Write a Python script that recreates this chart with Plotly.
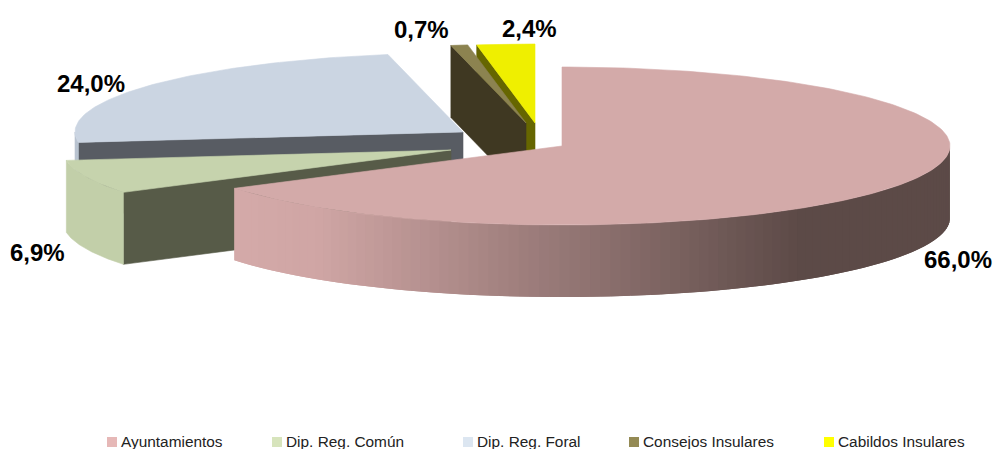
import math
import plotly.graph_objects as go

categories = ["Ayuntamientos", "Dip. Reg. Común", "Dip. Reg. Foral", "Consejos Insulares", "Cabildos Insulares"]
values = [66.0, 6.9, 24.0, 0.7, 2.4]
labels = ["66,0%", "6,9%", "24,0%", "0,7%", "2,4%"]

# styling / layout (canvas units)
apex = [(562, 146), (451, 150), (463, 132), (526, 123), (535, 123)]
top_colors = ["#d3aaa9", "#c6d3ad", "#cbd5e2", "#8c8350", "#efef00"]
face_colors = ["#5c4a47", "#575b48", "#585c63", "#3f3822", "#666600"]
arc_colors = [None, "#c2cfa9", "#b9c3d0", "#3f3822", "#666600"]
legend_colors = ["#e6b8b7", "#d7e4bc", "#dce6f1", "#948a54", "#ffff00"]
legend_x = [107, 272, 463, 629, 824]
label_pos = [(958, 259), (37, 252), (91, 83), (421, 29), (529, 28)]
draw_order = [4, 3, 2, 1, 0]
RX, RY, DEPTH = 388, 79, 72

fig = go.Figure()


def poly(xs, ys, color, lw=0.6):
    fig.add_trace(go.Scatter(x=xs, y=ys, mode="lines", fill="toself", fillcolor=color,
                             line=dict(color=color, width=lw), hoverinfo="skip", showlegend=False))


def pt(i, deg, dy=0):
    a = math.radians(deg)
    return apex[i][0] + RX * math.sin(a), apex[i][1] - RY * math.cos(a) + dy


def big_side(x):
    stops = [(234, (212, 170, 169)), (320, (207, 165, 164)), (800, (92, 74, 71)), (960, (92, 74, 71))]
    for (x0, c0), (x1, c1) in zip(stops, stops[1:]):
        if x <= x1:
            t = (x - x0) / (x1 - x0)
            return "rgb(%d,%d,%d)" % tuple(round(p + (q - p) * t) for p, q in zip(c0, c1))
    return "rgb(92,74,71)"


def rim(i, d0, d1, col, lw=0.0):
    steps = max(2, int((d1 - d0) / 0.5))
    ds = [d0 + (d1 - d0) * k / steps for k in range(steps + 1)]
    top = [pt(i, d) for d in ds]
    xs = [p[0] for p in top] + [p[0] for p in reversed(top)] + [top[0][0]]
    ys = [p[1] for p in top] + [p[1] + DEPTH for p in reversed(top)] + [top[0][1]]
    poly(xs, ys, col, lw)


starts = []
acc = 0.0
for v in values:
    starts.append(acc * 3.6)
    acc += v

for i in draw_order:
    s, e = starts[i], starts[i] + values[i] * 3.6
    # radial face at slice start
    if s > 0:
        ax, ay = apex[i]
        ox, oy = pt(i, s)
        poly([ax, ox, ox, ax, ax], [ay, oy, oy + DEPTH, ay + DEPTH, ay], face_colors[i])
    # outer rim, front half only
    lo, hi = max(s, 90), min(e, 270)
    if hi > lo:
        if i == 0:
            n = int((hi - lo) / 1.5)
            for k in range(n):
                d0 = lo + (hi - lo) * k / n
                d1 = lo + (hi - lo) * (k + 1) / n
                d2 = min(hi, d1 + (hi - lo) / n)
                rim(i, d0, d2, big_side(pt(i, (d0 + d1) / 2)[0]))
        else:
            rim(i, lo, hi, arc_colors[i], 0.6)
    # top face
    m = max(4, int((e - s) / 1.0))
    ds = [s + (e - s) * k / m for k in range(m + 1)]
    pts = [pt(i, d) for d in ds]
    poly([apex[i][0]] + [p[0] for p in pts] + [apex[i][0]],
         [apex[i][1]] + [p[1] for p in pts] + [apex[i][1]], top_colors[i])

for txt, (x, y) in zip(labels, label_pos):
    fig.add_annotation(x=x, y=y, text="<b>%s</b>" % txt, showarrow=False,
                       font=dict(family="Liberation Sans", size=24, color="#000000"))

for name, col, x in zip(categories, legend_colors, legend_x):
    fig.add_trace(go.Scatter(x=[x + 5], y=[442], mode="markers", hoverinfo="skip", showlegend=False,
                             marker=dict(symbol="square", size=10, color=col)))
    fig.add_annotation(x=x + 12, y=441, text=name, showarrow=False, xanchor="left",
                       font=dict(family="Liberation Sans", size=15.4, color="#222222"))

fig.update_layout(
    width=995, height=449, margin=dict(l=0, r=0, t=0, b=0, pad=0),
    paper_bgcolor="white", plot_bgcolor="white", showlegend=False,
    xaxis=dict(range=[0, 995], visible=False, fixedrange=True),
    yaxis=dict(range=[449, 0], visible=False, fixedrange=True),
)
fig.write_html("out.html", config={"displayModeBar": False},
               post_script="document.body.style.margin='0';document.documentElement.style.overflow='hidden';")
